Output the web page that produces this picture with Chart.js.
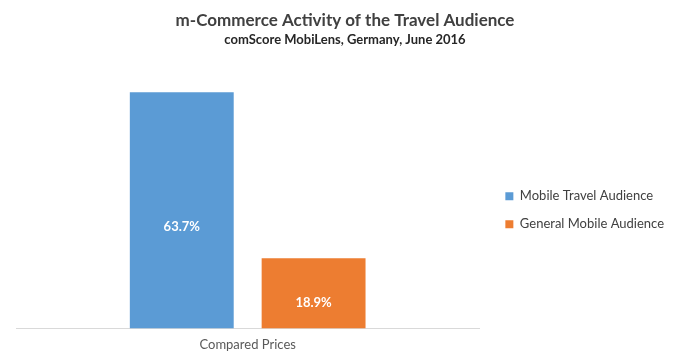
<!DOCTYPE html>
<html><head><meta charset="utf-8">
<script src="https://cdn.jsdelivr.net/npm/chart.js@4/dist/chart.umd.min.js"></script>
<style>html,body{margin:0;padding:0;background:#fff}#wrap{width:677px;height:361px}</style>
</head><body><div id="wrap"><canvas id="c" width="677" height="361"></canvas></div>
<script>
const categories = ["Compared Prices"];
const seriesNames = ["Mobile Travel Audience", "General Mobile Audience"];
const travelValues = [63.7];
const generalValues = [18.9];
const titleText = "m-Commerce Activity of the Travel Audience";
const subtitleText = "comScore MobiLens, Germany, June 2016";

const FONT = "Lato, 'Open Sans', sans-serif";

const labelPlugin = {
  id: 'barLabels',
  afterDatasetsDraw(chart) {
    const ctx = chart.ctx;
    ctx.save();
    ctx.fillStyle = '#ffffff';
    ctx.font = 'bold 13px ' + FONT;
    ctx.textAlign = 'center';
    ctx.textBaseline = 'middle';
    chart.data.datasets.forEach((ds, i) => {
      const meta = chart.getDatasetMeta(i);
      meta.data.forEach((bar, j) => {
        const y = bar.y + (bar.base - bar.y) * 0.54 + 7;
        ctx.fillText(ds.data[j].toFixed(1) + '%', bar.x, y);
      });
    });
    ctx.restore();
  }
};

new Chart(document.getElementById('c'), {
  type: 'bar',
  data: {
    labels: categories,
    datasets: [
      { label: seriesNames[0], data: travelValues, backgroundColor: '#5B9BD5', categoryPercentage: 0.569, barPercentage: 0.788 },
      { label: seriesNames[1], data: generalValues, backgroundColor: '#ED7D31', categoryPercentage: 0.569, barPercentage: 0.788 }
    ]
  },
  options: {
    responsive: false,
    animation: false,
    devicePixelRatio: 1,
    layout: { padding: { left: 16, right: 3, top: 0, bottom: 7 } },
    plugins: {
      tooltip: { enabled: false },
      title: { display: true, text: titleText, color: '#404040', font: { family: FONT, size: 17, weight: 'bold' }, padding: { top: 10, bottom: 2 } },
      subtitle: { display: true, text: subtitleText, color: '#262626', font: { family: FONT, size: 13, weight: 'bold' }, padding: { top: 0, bottom: 21 } },
      legend: {
        position: 'right',
        maxWidth: 220,
        title: { display: true, text: '', font: { size: 12 }, padding: { top: 0, bottom: 52 } },
        labels: { color: '#404040', font: { family: FONT, size: 13 }, boxWidth: 8, boxHeight: 8, padding: 15 }
      }
    },
    scales: {
      x: {
        grid: { display: false },
        border: { display: true, color: '#d9d9d9', width: 1 },
        ticks: { color: '#595959', font: { family: FONT, size: 13 }, padding: 1 }
      },
      y: {
        min: 0, max: 70,
        display: false
      },
      yPad: {
        position: 'right',
        display: true,
        min: 0, max: 70,
        grid: { display: false },
        border: { display: false },
        ticks: { display: false },
        afterFit(scale) { scale.width = 11; }
      }
    }
  },
  plugins: [labelPlugin]
});
</script></body></html>
